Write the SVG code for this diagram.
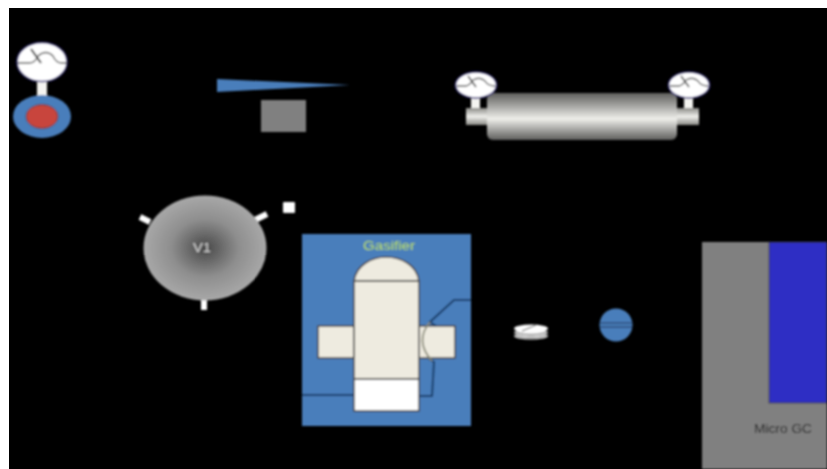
<svg xmlns="http://www.w3.org/2000/svg" width="827" height="469" viewBox="0 0 827 469">
<defs>
<linearGradient id="cyl" x1="0" y1="0" x2="0" y2="1"><stop offset="0" stop-color="#5e5e5c"/><stop offset="0.55" stop-color="#eeeeea"/><stop offset="1" stop-color="#5e5e5c"/></linearGradient>
<linearGradient id="stub" x1="0" y1="0" x2="0" y2="1"><stop offset="0" stop-color="#8a8a86"/><stop offset="0.5" stop-color="#eeeeea"/><stop offset="1" stop-color="#8a8a86"/></linearGradient>
<radialGradient id="ves"><stop offset="0" stop-color="#484848"/><stop offset="0.55" stop-color="#8e8e8e"/><stop offset="1" stop-color="#a8a8a8"/></radialGradient>
<filter id="soft" x="-2%" y="-2%" width="104%" height="104%"><feGaussianBlur stdDeviation="0.8"/></filter>
</defs>
<style>
.line{fill:none;stroke:#123a66;stroke-width:2}
.part{fill:#eeebe0;stroke:#444;stroke-width:1.6}
.gface{fill:#fff;stroke:#352f7a;stroke-width:1.6}
.gmark{fill:none;stroke:#555;stroke-width:1.4}
.stem{fill:#f4f4f0}
.lbl{font-family:"Liberation Sans",Arial,sans-serif;font-size:12px}
</style>
<rect width="827" height="469" fill="#fff"/>
<rect x="9" y="8" width="818" height="461" fill="#000"/>
<g filter="url(#soft)">
<g id="gauge-regulator">
<rect class="stem" x="37" y="81" width="10" height="15"/>
<ellipse cx="42" cy="116.500" rx="29" ry="21.500" fill="#4a7ebb"/>
<ellipse cx="42" cy="116.500" rx="16" ry="12" fill="#c8453c" stroke="#4a3a3a" stroke-width="1"/>
<ellipse class="gface" cx="42" cy="62" rx="25" ry="19.500"/>
<path class="gmark" d="M18 63H29Q35 63 38 56Q46 49 53 56Q56 63 62 63H67"/>
<path d="M31 49L41 63" stroke="#333" stroke-width="2"/>
</g>
<g id="wedge">
<path d="M217 79L350 85L217 92Z" fill="#4a7ebb"/>
</g>
<g id="block">
<rect x="261" y="100" width="45" height="32" fill="#808080"/>
</g>
<g id="cylinder">
<rect class="stem" x="471" y="97" width="9" height="12"/>
<rect class="stem" x="684" y="97" width="9" height="12"/>
<rect x="466" y="108" width="22" height="17" fill="url(#stub)"/>
<rect x="677" y="108" width="22" height="17" fill="url(#stub)"/>
<rect x="487" y="93" width="190" height="47" rx="6" fill="url(#cyl)"/>
<ellipse class="gface" cx="476" cy="85" rx="20.500" ry="13"/>
<path class="gmark" d="M457 86H466Q470 85 473 80Q480 76 485 81Q488 86 495 86"/>
<path d="M468 76L476 87" stroke="#333" stroke-width="1.400"/>
<ellipse class="gface" cx="689" cy="85" rx="20.500" ry="13"/>
<path class="gmark" d="M670 86H679Q683 85 686 80Q693 76 698 81Q701 86 708 86"/>
<path d="M681 76L689 87" stroke="#333" stroke-width="1.400"/>
</g>
<g id="V1">
<path d="M140 217L150 222M267 214L255 220M204 300V310" stroke="#fff" stroke-width="6" fill="none"/>
<ellipse cx="205" cy="248" rx="61.500" ry="52.500" fill="url(#ves)"/>
<text class="lbl" x="193" y="252" textLength="18" lengthAdjust="spacingAndGlyphs" fill="#d8d8d8">V1</text>
</g>
<g id="valve">
<rect x="283" y="202" width="12" height="11" rx="1" fill="#fff"/>
</g>
<g id="gasifier">
<rect x="302" y="234" width="169" height="192" fill="#4a7ebb"/>
<text class="lbl" x="363" y="250" textLength="52" lengthAdjust="spacingAndGlyphs" fill="#b6dc5c">Gasifier</text>
<rect class="part" x="318" y="326" width="36" height="32"/>
<rect class="part" x="418" y="326" width="37" height="32"/>
<path class="part" d="M354 281C356 265 372 257 386 257C401 257 417 265 419 281Z"/>
<rect class="part" x="354" y="281" width="65" height="98"/>
<rect x="354" y="379" width="65" height="32" fill="#fff" stroke="#444" stroke-width="1.600"/>
</g>
<g id="connectors">
<path class="line" d="M471 300H454L430 322L436 326"/>
<path class="line" d="M429 359L434 362L432 396H419"/>
<path class="line" d="M302 395H354"/>
<path d="M430 322Q414 341 432 361" fill="none" stroke="#8a8a78" stroke-width="1.800"/>
</g>
<g id="filter-disk">
<ellipse cx="531" cy="336" rx="17" ry="3.500" fill="#eee"/>
<path d="M514 335Q531 341 548 335" fill="none" stroke="#555" stroke-width="1"/>
<ellipse cx="531" cy="332.500" rx="17" ry="3.500" fill="#eee"/>
<path d="M514 332Q531 338 548 332" fill="none" stroke="#555" stroke-width="1"/>
<ellipse cx="531" cy="328.500" rx="17" ry="4" fill="#fff"/>
<path d="M522 331L536 325" stroke="#444" stroke-width="1"/>
</g>
<g id="blue-valve">
<circle cx="616" cy="325" r="16.500" fill="#4a7ebb"/>
<path d="M600 323H632M600 327H632" stroke="#1c2f50" stroke-width="1"/>
</g>
<g id="micro-gc">
<rect x="702" y="242" width="125" height="227" fill="#808080"/>
<rect x="769" y="242" width="58" height="161" fill="#2f2fc4" stroke="#333" stroke-width="0.800"/>
<text class="lbl" x="754" y="433" textLength="58" lengthAdjust="spacingAndGlyphs" fill="#222">Micro GC</text>
</g>
</g>
</svg>
